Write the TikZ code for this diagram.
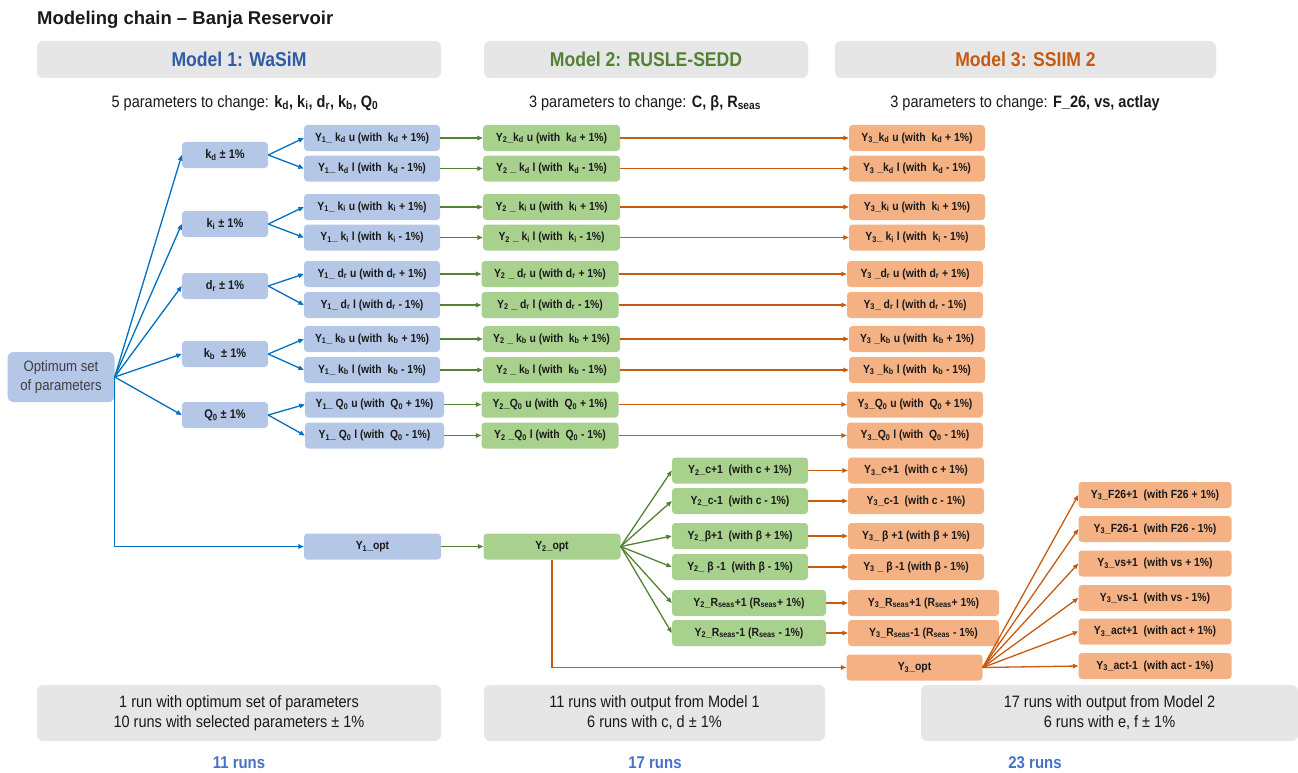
\documentclass[tikz,border=0pt]{standalone}
\usepackage{fontspec}
\setmainfont{Liberation Sans}
\newfontfamily\nodefont{Liberation Sans}[FakeStretch=0.88]
\usetikzlibrary{arrows.meta}
\definecolor{bfill}{HTML}{B4C7E7}
\definecolor{gfill}{HTML}{A9D18E}
\definecolor{ofill}{HTML}{F4B183}
\definecolor{bline}{HTML}{0070C0}
\definecolor{gline}{HTML}{548235}
\definecolor{oline}{HTML}{C55A11}
\definecolor{hfill}{HTML}{E7E6E6}
\definecolor{hblue}{HTML}{2F5BA7}
\definecolor{rblue}{HTML}{4472C4}
\definecolor{txt}{HTML}{1A1A1A}
\definecolor{gtxt}{HTML}{404040}
\newcommand\sbs[1]{\textsubscript{#1}}
\begin{document}
\begin{tikzpicture}[x=1pt,y=-1pt,
 box/.style={rounded corners=3.5pt, inner sep=0pt, minimum height=26pt, text=txt, font=\nodefont\bfseries\fontsize{11.8}{13}\selectfont},
 bbox/.style={box, fill=bfill},
 gbox/.style={box, fill=gfill},
 obox/.style={box, fill=ofill},
 pbox/.style={bbox, minimum width=86pt, font=\nodefont\bfseries\fontsize{12.5}{14}\selectfont},
 hdr/.style={fill=hfill, rounded corners=6pt, minimum height=37pt, inner sep=0pt, font=\nodefont\bfseries\fontsize{20}{22}\selectfont},
 subhdr/.style={inner sep=0pt, text=txt, font=\nodefont\fontsize{16.5}{18}\selectfont},
 foot/.style={fill=hfill, rounded corners=6pt, minimum height=56pt, inner sep=0pt, align=center, text=txt, font=\nodefont\fontsize{16.5}{20}\selectfont},
 runs/.style={inner sep=0pt, text=rblue, font=\nodefont\bfseries\fontsize{17}{18}\selectfont},
 tip/.style={-{Triangle[length=5.5pt,width=4.5pt]}},
 barr/.style={draw=bline, line width=1.3pt, tip},
 garr/.style={draw=gline, line width=1.3pt, tip},
 oarr/.style={draw=oline, line width=1.3pt, tip}
]
\useasboundingbox (0,0) rectangle (1298,773);

% title and headers
\node[anchor=west, inner sep=0pt, text=txt, font=\bfseries\fontsize{18.5}{22}\selectfont] (title) at (37,20) {Modeling chain – Banja Reservoir};
\node[hdr, minimum width=404pt, text=hblue] (h1) at (239,59.5) {Model 1: WaSiM};
\node[hdr, minimum width=324pt, text=gline] (h2) at (646,59.5) {Model 2: RUSLE-SEDD};
\node[hdr, minimum width=381pt, text=oline] (h3) at (1025.5,59.5) {Model 3: SSIIM 2};
\node[subhdr] (s1) at (245,103) {5 parameters to change: \textbf{k\sbs{d}, k\sbs{i}, d\sbs{r}, k\sbs{b}, Q\sbs{0}}};
\node[subhdr] (s2) at (645,103) {3 parameters to change: \textbf{C, β, R\sbs{seas}}};
\node[subhdr] (s3) at (1025,103) {3 parameters to change: \textbf{F\_26, vs, actlay}};

% optimum
\node[fill=bfill, rounded corners=6pt, minimum width=107pt, minimum height=50pt, inner sep=0pt, align=center, text=gtxt, font=\nodefont\fontsize{15}{19}\selectfont] (opt) at (61,377) {Optimum set\\of parameters};

% parameter nodes
\node[pbox] (pkd) at (225,155) {k\sbs{d} ± 1\%};
\node[pbox] (pki) at (225,224) {k\sbs{i} ± 1\%};
\node[pbox] (pdr) at (225,286) {d\sbs{r} ± 1\%};
\node[pbox] (pkb) at (225,354) {k\sbs{b}\ \ ± 1\%};
\node[pbox] (pq) at (225,415) {Q\sbs{0} ± 1\%};

% model 1 outputs
\node[bbox, minimum width=136pt] (y1a) at (372,138) {Y\sbs{1}\_\ k\sbs{d} u (with\ \ k\sbs{d} + 1\%)};
\node[bbox, minimum width=136pt] (y1b) at (372,168.5) {Y\sbs{1}\_\ k\sbs{d} l (with\ \ k\sbs{d} - 1\%)};
\node[bbox, minimum width=136pt] (y1c) at (372,207) {Y\sbs{1}\_\ k\sbs{i} u (with\ \ k\sbs{i} + 1\%)};
\node[bbox, minimum width=136pt] (y1d) at (372,237.5) {Y\sbs{1}\_\ k\sbs{i} l (with\ \ k\sbs{i} - 1\%)};
\node[bbox, minimum width=136pt] (y1e) at (372,274) {Y\sbs{1}\_\ d\sbs{r} u (with d\sbs{r} + 1\%)};
\node[bbox, minimum width=136pt] (y1f) at (372,305) {Y\sbs{1}\_\ d\sbs{r} l (with d\sbs{r} - 1\%)};
\node[bbox, minimum width=136pt] (y1g) at (372,339) {Y\sbs{1}\_\ k\sbs{b} u (with\ \ k\sbs{b} + 1\%)};
\node[bbox, minimum width=136pt] (y1h) at (372,370) {Y\sbs{1}\_\ k\sbs{b} l (with\ \ k\sbs{b} - 1\%)};
\node[bbox, minimum width=139pt] (y1i) at (374.5,404.5) {Y\sbs{1}\_\ Q\sbs{0} u (with\ \ Q\sbs{0} + 1\%)};
\node[bbox, minimum width=139pt] (y1j) at (374.5,435.5) {Y\sbs{1}\_\ Q\sbs{0} l (with\ \ Q\sbs{0} - 1\%)};
\node[bbox, minimum width=137pt] (y1opt) at (372.5,546.5) {Y\sbs{1}\_opt};

% model 2 outputs
\node[gbox, minimum width=137pt] (y2a) at (551.5,138) {Y\sbs{2}\_k\sbs{d} u (with\ \ k\sbs{d} + 1\%)};
\node[gbox, minimum width=137pt] (y2b) at (551.5,168.5) {Y\sbs{2} \_ k\sbs{d} l (with\ \ k\sbs{d} - 1\%)};
\node[gbox, minimum width=137pt] (y2c) at (551.5,207) {Y\sbs{2} \_ k\sbs{i} u (with\ \ k\sbs{i} + 1\%)};
\node[gbox, minimum width=137pt] (y2d) at (551.5,237.5) {Y\sbs{2} \_ k\sbs{i} l (with\ \ k\sbs{i} - 1\%)};
\node[gbox, minimum width=137pt] (y2e) at (550,274) {Y\sbs{2} \_ d\sbs{r} u (with d\sbs{r} + 1\%)};
\node[gbox, minimum width=137pt] (y2f) at (550,305) {Y\sbs{2} \_ d\sbs{r} l (with d\sbs{r} - 1\%)};
\node[gbox, minimum width=137pt] (y2g) at (551.5,339) {Y\sbs{2} \_ k\sbs{b} u (with\ \ k\sbs{b} + 1\%)};
\node[gbox, minimum width=137pt] (y2h) at (551.5,370) {Y\sbs{2} \_ k\sbs{b} l (with\ \ k\sbs{b} - 1\%)};
\node[gbox, minimum width=137pt] (y2i) at (550,404.5) {Y\sbs{2}\_Q\sbs{0} u (with\ \ Q\sbs{0} + 1\%)};
\node[gbox, minimum width=137pt] (y2j) at (550,435.5) {Y\sbs{2} \_Q\sbs{0} l (with\ \ Q\sbs{0} - 1\%)};
\node[gbox, minimum width=137pt] (y2opt) at (552,546.5) {Y\sbs{2}\_opt};
\node[gbox, minimum width=136pt] (y2k) at (740,470.5) {Y\sbs{2}\_c+1\ \ (with c + 1\%)};
\node[gbox, minimum width=136pt] (y2l) at (740,501) {Y\sbs{2}\_c-1\ \ (with c - 1\%)};
\node[gbox, minimum width=136pt] (y2m) at (740,536) {Y\sbs{2}\_β+1\ \ (with β + 1\%)};
\node[gbox, minimum width=136pt] (y2n) at (740,567) {Y\sbs{2}\_\ β -1\ \ (with β - 1\%)};
\node[gbox, minimum width=154pt] (y2o) at (749,603) {Y\sbs{2}\_R\sbs{seas}+1 (R\sbs{seas}+ 1\%)};
\node[gbox, minimum width=154pt] (y2p) at (749,633) {Y\sbs{2}\_R\sbs{seas}-1 (R\sbs{seas} - 1\%)};

% model 3 outputs
\node[obox, minimum width=136pt] (y3a) at (917,138) {Y\sbs{3}\_k\sbs{d} u (with\ \ k\sbs{d} + 1\%)};
\node[obox, minimum width=136pt] (y3b) at (917,168.5) {Y\sbs{3} \_k\sbs{d} l (with\ \ k\sbs{d} - 1\%)};
\node[obox, minimum width=136pt] (y3c) at (917,207) {Y\sbs{3}\_k\sbs{i} u (with\ \ k\sbs{i} + 1\%)};
\node[obox, minimum width=136pt] (y3d) at (917,237.5) {Y\sbs{3}\_\ k\sbs{i} l (with\ \ k\sbs{i} - 1\%)};
\node[obox, minimum width=136pt] (y3e) at (915,274) {Y\sbs{3} \_d\sbs{r} u (with d\sbs{r} + 1\%)};
\node[obox, minimum width=136pt] (y3f) at (915,305) {Y\sbs{3}\_\ d\sbs{r} l (with d\sbs{r} - 1\%)};
\node[obox, minimum width=136pt] (y3g) at (917,339) {Y\sbs{3} \_k\sbs{b} u (with\ \ k\sbs{b} + 1\%)};
\node[obox, minimum width=136pt] (y3h) at (917,370) {Y\sbs{3} \_k\sbs{b} l (with\ \ k\sbs{b} - 1\%)};
\node[obox, minimum width=136pt] (y3i) at (915,404.5) {Y\sbs{3}\_Q\sbs{0} u (with\ \ Q\sbs{0} + 1\%)};
\node[obox, minimum width=136pt] (y3j) at (915,435.5) {Y\sbs{3}\_Q\sbs{0} l (with\ \ Q\sbs{0} - 1\%)};
\node[obox, minimum width=136pt] (y3k) at (916,470.5) {Y\sbs{3}\_c+1\ \ (with c + 1\%)};
\node[obox, minimum width=136pt] (y3l) at (916,501) {Y\sbs{3}\_c-1\ \ (with c - 1\%)};
\node[obox, minimum width=136pt] (y3m) at (916,536) {Y\sbs{3}\_\ β +1 (with β + 1\%)};
\node[obox, minimum width=136pt] (y3n) at (916,567) {Y\sbs{3} \_ β -1 (with β - 1\%)};
\node[obox, minimum width=151pt] (y3o) at (923.5,603) {Y\sbs{3}\_R\sbs{seas}+1 (R\sbs{seas}+ 1\%)};
\node[obox, minimum width=151pt] (y3p) at (923.5,633) {Y\sbs{3}\_R\sbs{seas}-1 (R\sbs{seas} - 1\%)};
\node[obox, minimum width=136pt] (y3opt) at (914.5,667.5) {Y\sbs{3}\_opt};
\node[obox, minimum width=153pt] (fa) at (1155,495) {Y\sbs{3}\_F26+1\ \ (with F26 + 1\%)};
\node[obox, minimum width=153pt] (fb) at (1155,529) {Y\sbs{3}\_F26-1\ \ (with F26 - 1\%)};
\node[obox, minimum width=153pt] (fc) at (1155,563.5) {Y\sbs{3}\_vs+1\ \ (with vs + 1\%)};
\node[obox, minimum width=153pt] (fd) at (1155,598) {Y\sbs{3}\_vs-1\ \ (with vs - 1\%)};
\node[obox, minimum width=153pt] (fe) at (1155,631.5) {Y\sbs{3}\_act+1\ \ (with act + 1\%)};
\node[obox, minimum width=153pt] (ff) at (1155,666) {Y\sbs{3}\_act-1\ \ (with act - 1\%)};

% footers
\node[foot, minimum width=404pt] (f1) at (239,713) {1 run with optimum set of parameters\\10 runs with selected parameters ± 1\%};
\node[foot, minimum width=341pt] (f2) at (654.5,713) {11 runs with output from Model 1\\6 runs with c, d ± 1\%};
\node[foot, minimum width=377pt] (f3) at (1109.5,713) {17 runs with output from Model 2\\6 runs with e, f ± 1\%};
\node[runs] (r1) at (239,763) {11 runs};
\node[runs] (r2) at (655,763) {17 runs};
\node[runs] (r3) at (1035,763) {23 runs};

% blue connectors
\foreach \p in {pkd,pki,pdr,pkb,pq} \draw[barr] (opt.east) -- (\p.west);
\draw[barr] (opt.east) |- (y1opt.west);
\draw[barr] (pkd.east) -- (y1a.west);
\draw[barr] (pkd.east) -- (y1b.west);
\draw[barr] (pki.east) -- (y1c.west);
\draw[barr] (pki.east) -- (y1d.west);
\draw[barr] (pdr.east) -- (y1e.west);
\draw[barr] (pdr.east) -- (y1f.west);
\draw[barr] (pkb.east) -- (y1g.west);
\draw[barr] (pkb.east) -- (y1h.west);
\draw[barr] (pq.east) -- (y1i.west);
\draw[barr] (pq.east) -- (y1j.west);

% green connectors
\foreach \r in {a,b,c,d,e,f,g,h,i,j,opt} \draw[garr] (y1\r.east) -- (y2\r.west);
\foreach \r in {k,l,m,n,o,p} \draw[garr] (y2opt.east) -- (y2\r.west);

% orange connectors
\foreach \r in {a,b,c,d,e,f,g,h,i,j,k,l,m,n,o,p} \draw[oarr] (y2\r.east) -- (y3\r.west);
\draw[oarr] (y2opt.south) |- (y3opt.west);
\foreach \r in {fa,fb,fc,fd,fe,ff} \draw[oarr] (y3opt.east) -- (\r.west);
\end{tikzpicture}
\end{document}
